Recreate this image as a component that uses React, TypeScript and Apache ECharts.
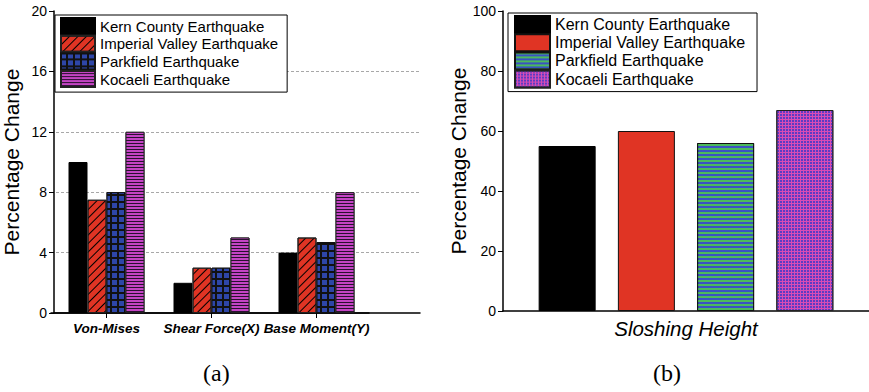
import React, { useEffect, useRef } from "react";
import * as echarts from "echarts";

const categories = ["Von-Mises", "Shear Force(X)", "Base Moment(Y)"];
const quakeNames = [
  "Kern County Earthquake",
  "Imperial Valley Earthquake",
  "Parkfield Earthquake",
  "Kocaeli Earthquake",
];
const kernA = [10, 2, 4];
const imperialA = [7.5, 3, 5];
const parkfieldA = [8, 3, 4.7];
const kocaeliA = [12, 5, 8];

const sloshCategory = ["Sloshing Height"];
const sloshValues = [55, 60, 56, 67];

const yNameText = "Percentage Change";
const panelLabels = ["(a)", "(b)"];

const FONT = "'Liberation Sans', Arial, Helvetica, sans-serif";
const SERIF = "'Liberation Serif', 'Times New Roman', serif";
const RIGHT_PREFIX = "b::";

export default function App() {
  const ref = useRef<HTMLDivElement>(null);
  useEffect(() => {
    if (!ref.current) return;
    const chart = echarts.init(ref.current, undefined, { renderer: "svg" });

    const leftStyles: any[] = [
      { color: "#000000", borderColor: "#000", borderWidth: 1 },
      {
        color: "#e03424",
        borderColor: "#222",
        borderWidth: 1,
        decal: {
          symbol: "rect",
          symbolSize: 1,
          color: "#000000",
          dashArrayX: [1, 0],
          dashArrayY: [0.9, 5],
          rotation: -Math.PI / 4,
        },
      },
      {
        color: "#111111",
        borderColor: "#111",
        borderWidth: 1,
        decal: {
          symbol: "rect",
          symbolSize: 1,
          color: "#2e46a8",
          dashArrayX: [4.8, 1.2],
          dashArrayY: [4.8, 1.2],
          rotation: 0,
        },
      },
      {
        color: "#2a1030",
        borderColor: "#222",
        borderWidth: 1,
        decal: {
          symbol: "rect",
          symbolSize: 1,
          color: "#c444c4",
          dashArrayX: [1, 0],
          dashArrayY: [2, 1],
          rotation: 0,
        },
      },
    ];

    const rightStyles: any[] = [
      { color: "#000000", borderColor: "#000", borderWidth: 1 },
      { color: "#e03424", borderColor: "#111", borderWidth: 1 },
      {
        color: "#3a52c4",
        borderColor: "#111",
        borderWidth: 1,
        decal: {
          symbol: "rect",
          symbolSize: 1,
          color: "#4cba5c",
          dashArrayX: [1, 0],
          dashArrayY: [1.5, 1.5],
          rotation: 0,
        },
      },
      {
        color: "#d84cb4",
        borderColor: "#222",
        borderWidth: 1,
        decal: {
          symbol: "rect",
          symbolSize: 1,
          color: "#5c3cc4",
          dashArrayX: [2, 1],
          dashArrayY: [2, 1],
          rotation: 0,
        },
      },
    ];

    const leftData = [kernA, imperialA, parkfieldA, kocaeliA];
    const rightNames = quakeNames.map((n) => RIGHT_PREFIX + n);

    const leftSeries = quakeNames.map((name, i) => ({
      type: "bar",
      name,
      xAxisIndex: 1,
      yAxisIndex: 1,
      data: leftData[i],
      barWidth: 19,
      barGap: "0%",
      itemStyle: leftStyles[i],
    }));

    const rightSeries = rightNames.map((name, i) => ({
      type: "bar",
      name,
      xAxisIndex: 2,
      yAxisIndex: 2,
      data: [sloshValues[i]],
      barWidth: 57,
      barGap: "39%",
      itemStyle: rightStyles[i],
    }));

    const yLabel = { color: "#000", fontSize: 14, fontFamily: FONT, margin: 7 };

    chart.setOption({
      animation: false,
      backgroundColor: "#ffffff",
      textStyle: { fontFamily: FONT },
      grid: [
        { left: 51, top: 11, width: 369, height: 302 },
        { left: 51, top: 11, width: 318, height: 302 },
        { left: 503, top: 11, width: 366, height: 300 },
      ],
      xAxis: [
        {
          gridIndex: 0,
          type: "value",
          min: 0,
          max: 1,
          axisLine: { show: true, lineStyle: { color: "#000", width: 1.5 } },
          axisTick: { show: false },
          axisLabel: { show: false },
          splitLine: { show: false },
        },
        {
          gridIndex: 1,
          type: "category",
          data: categories,
          axisLine: { show: true, lineStyle: { color: "#000", width: 1.5 } },
          axisTick: { show: true, alignWithLabel: true, length: 5, lineStyle: { color: "#000" } },
          axisLabel: {
            interval: 0,
            color: "#000",
            fontSize: 13.5,
            fontWeight: "bold",
            fontStyle: "italic",
            fontFamily: FONT,
            margin: 8,
          },
        },
        {
          gridIndex: 2,
          type: "category",
          data: sloshCategory,
          axisLine: { show: true, lineStyle: { color: "#000", width: 1.5 } },
          axisTick: { show: false },
          axisLabel: {
            color: "#000",
            fontSize: 20.5,
            fontStyle: "italic",
            fontFamily: FONT,
            margin: 7,
          },
        },
      ],
      yAxis: [
        {
          gridIndex: 0,
          type: "value",
          min: 0,
          max: 20,
          interval: 4,
          axisLine: { show: false },
          axisTick: { show: false },
          axisLabel: { show: false },
          splitLine: {
            show: true,
            showMinLine: false,
            showMaxLine: false,
            lineStyle: { color: "#a8a8a8", type: [3, 2], width: 1 },
          },
        },
        {
          gridIndex: 1,
          type: "value",
          min: 0,
          max: 20,
          interval: 4,
          name: yNameText,
          nameLocation: "middle",
          nameRotate: 90,
          nameGap: 32,
          nameTextStyle: { color: "#000", fontSize: 21, fontFamily: FONT },
          axisLine: { show: true, lineStyle: { color: "#000", width: 1.5 } },
          axisTick: { show: true, inside: false, length: 5, lineStyle: { color: "#000" } },
          axisLabel: yLabel,
          splitLine: { show: false },
        },
        {
          gridIndex: 2,
          type: "value",
          min: 0,
          max: 100,
          interval: 20,
          name: yNameText,
          nameLocation: "middle",
          nameRotate: 90,
          nameGap: 32,
          nameTextStyle: { color: "#000", fontSize: 21, fontFamily: FONT },
          axisLine: { show: true, lineStyle: { color: "#000", width: 1.5 } },
          axisTick: { show: true, inside: false, length: 5, lineStyle: { color: "#000" } },
          axisLabel: yLabel,
          splitLine: { show: false },
        },
      ],
      legend: [
        {
          data: quakeNames,
          left: 55,
          top: 15,
          orient: "vertical",
          icon: "rect",
          itemWidth: 34,
          itemHeight: 16,
          itemGap: -0.3,
          padding: [2, 9, 4, 5],
          borderColor: "#000",
          borderWidth: 1,
          backgroundColor: "#ffffff",
          textStyle: { color: "#000", fontSize: 15, fontFamily: FONT },
        },
        {
          data: rightNames,
          left: 508,
          top: 13,
          orient: "vertical",
          icon: "rect",
          itemWidth: 35,
          itemHeight: 17,
          itemGap: -0.8,
          padding: [2, 12, 3, 6],
          borderColor: "#000",
          borderWidth: 1,
          backgroundColor: "#ffffff",
          formatter: (n: string) => n.slice(RIGHT_PREFIX.length),
          textStyle: { color: "#000", fontSize: 16, fontFamily: FONT },
        },
      ],
      graphic: [
        {
          type: "text",
          left: 203,
          top: 361,
          style: { text: panelLabels[0], fontSize: 24, fontFamily: SERIF, fill: "#000" },
        },
        {
          type: "text",
          left: 653,
          top: 361,
          style: { text: panelLabels[1], fontSize: 24, fontFamily: SERIF, fill: "#000" },
        },
      ],
      series: [...leftSeries, ...rightSeries],
    });

    return () => chart.dispose();
  }, []);

  return (
    <div
      ref={ref}
      style={{ position: "absolute", left: 0, top: 0, width: 869, height: 392 }}
    />
  );
}
